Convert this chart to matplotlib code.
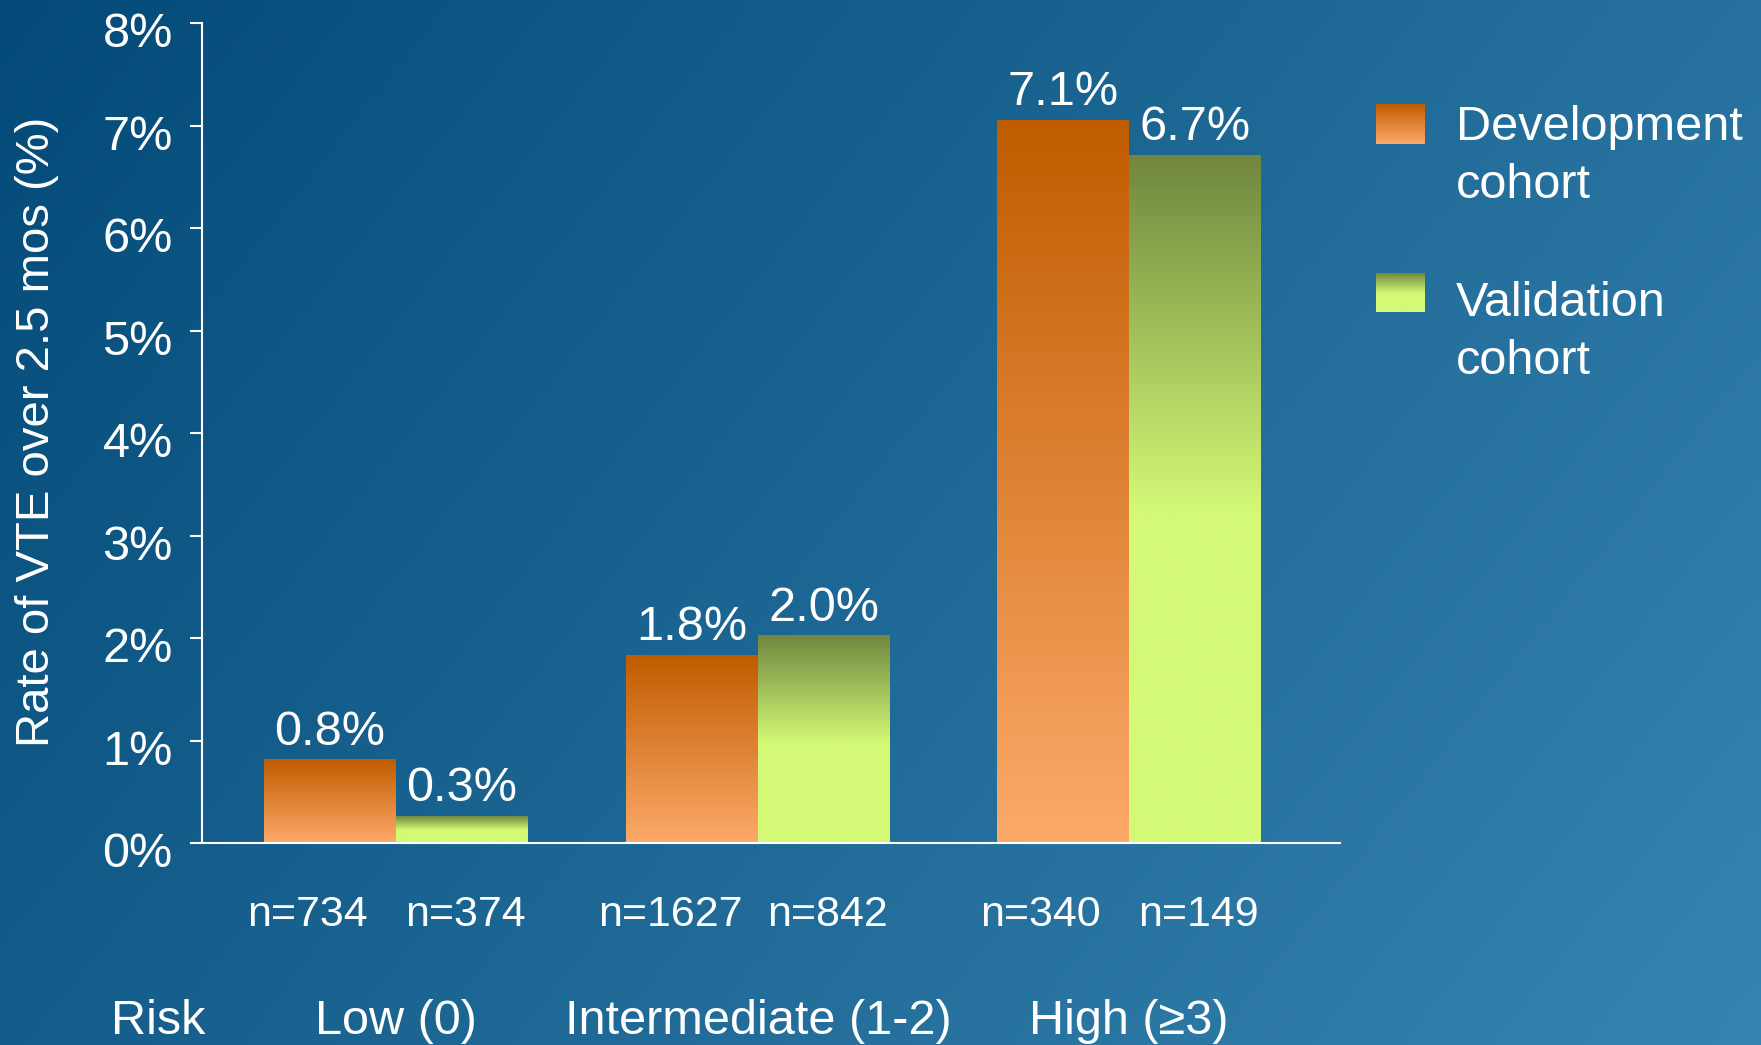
import numpy as np
import matplotlib
matplotlib.use("Agg")
import matplotlib.pyplot as plt
import matplotlib.transforms as mtransforms
from matplotlib.colors import LinearSegmentedColormap

plt.rcParams["font.family"] = ["Liberation Sans", "DejaVu Sans"]

# data (bar heights as drawn, labels as printed)
groups = ["Low (0)", "Intermediate (1-2)", "High (\u22653)"]
dev_rates = [0.81, 1.83, 7.05]
val_rates = [0.26, 2.02, 6.71]
dev_labels = ["0.8%", "1.8%", "7.1%"]
val_labels = ["0.3%", "2.0%", "6.7%"]
dev_n = [734, 1627, 340]
val_n = [374, 842, 149]
series = ["Development\ncohort", "Validation\ncohort"]

W, H = 1761, 1045
FS = 35
fig = plt.figure(figsize=(W / 100, H / 100), dpi=100)

# background gradient (dark top-left to lighter bottom-right)
bg = fig.add_axes([0, 0, 1, 1], zorder=-1)
yy, xx = np.mgrid[0:1:200j, 0:1:300j]
t = np.clip(0.68 * xx + 0.32 * yy, 0, 1)
c0 = np.array([3, 74, 120]) / 255
c1 = np.array([55, 132, 176]) / 255
img = c0[None, None, :] * (1 - t[..., None]) + c1[None, None, :] * t[..., None]
bg.imshow(img, extent=[0, 1, 0, 1], aspect="auto", origin="upper")
bg.set_axis_off()

dev_cmap = LinearSegmentedColormap.from_list(
    "dev", [(0, (252/255, 170/255, 106/255)), (1, (192/255, 92/255, 0))])
val_cmap = LinearSegmentedColormap.from_list(
    "val", [(0, (212/255, 249/255, 118/255)), (0.48, (212/255, 249/255, 118/255)),
            (1, (112/255, 135/255, 62/255))])

ax = fig.add_axes([202 / W, 1 - 843 / H, (1340 - 202) / W, (843 - 23) / H])
ax.patch.set_alpha(0)

x = np.array([0, 0.988, 2.0])
bw = 0.36
grad = np.linspace(0, 1, 256)[:, None]

def grad_bar(xc, h, cmap):
    ax.imshow(grad, cmap=cmap, origin="lower", aspect="auto",
              extent=[xc - bw / 2, xc + bw / 2, 0, h], zorder=2)

for i in range(len(groups)):
    grad_bar(x[i] - bw / 2, dev_rates[i], dev_cmap)
    grad_bar(x[i] + bw / 2, val_rates[i], val_cmap)
    ax.text(x[i] - bw / 2, dev_rates[i] + 0.05, dev_labels[i], ha="center",
            va="bottom", color="white", fontsize=FS)
    ax.text(x[i] + bw / 2, val_rates[i] + 0.05, val_labels[i], ha="center",
            va="bottom", color="white", fontsize=FS)

ax.set_xlim(-0.529, 2.576)
ax.set_ylim(0, 8)
ax.set_yticks(range(0, 9))
ax.set_yticklabels([f"{v}%" for v in range(0, 9)])
ax.set_xticks([])
ax.tick_params(axis="y", colors="white", labelsize=FS, length=9, width=1.5, pad=12)
shift = mtransforms.ScaledTranslation(0, -5 / 72, fig.dpi_scale_trans)
for lab in ax.get_yticklabels():
    lab.set_transform(lab.get_transform() + shift)
for s in ["top", "right"]:
    ax.spines[s].set_visible(False)
for s in ["left", "bottom"]:
    ax.spines[s].set_color("white")
    ax.spines[s].set_linewidth(1.5)

# n labels and group labels under the axis
tr = ax.get_xaxis_transform()
for i in range(len(groups)):
    ax.text(x[i] - bw / 2 - 0.06, -0.088, f"n={dev_n[i]}", transform=tr, ha="center",
            va="center", color="white", fontsize=31, clip_on=False)
    ax.text(x[i] + bw / 2 + 0.01, -0.088, f"n={val_n[i]}", transform=tr, ha="center",
            va="center", color="white", fontsize=31, clip_on=False)
    ax.text(x[i], -0.218, groups[i], transform=tr, ha="center", va="center",
            color="white", fontsize=FS, clip_on=False)
fig.text(158 / W, 1 - 1022 / H, "Risk", ha="center", va="center", color="white", fontsize=FS)

fig.text(37 / W, 1 - 432 / H, "Rate of VTE over 2.5 mos (%)", rotation=90,
         ha="center", va="center", color="white", fontsize=34)

# legend
for (y0, y1, cmap, label, ty) in [(104, 144, dev_cmap, series[0], 128),
                                  (273, 312, val_cmap, series[1], 304)]:
    pa = fig.add_axes([1376 / W, 1 - y1 / H, 48 / W, (y1 - y0) / H])
    pa.imshow(grad, cmap=cmap, origin="lower", aspect="auto", extent=[0, 1, 0, 1])
    pa.set_axis_off()
    l1, l2 = label.split("\n")
    fig.text(1456 / W, 1 - ty / H, l1, ha="left", va="center", color="white", fontsize=FS)
    fig.text(1456 / W, 1 - (ty + 58) / H, l2, ha="left", va="center", color="white", fontsize=FS)

fig.savefig("out.png", dpi=100)
